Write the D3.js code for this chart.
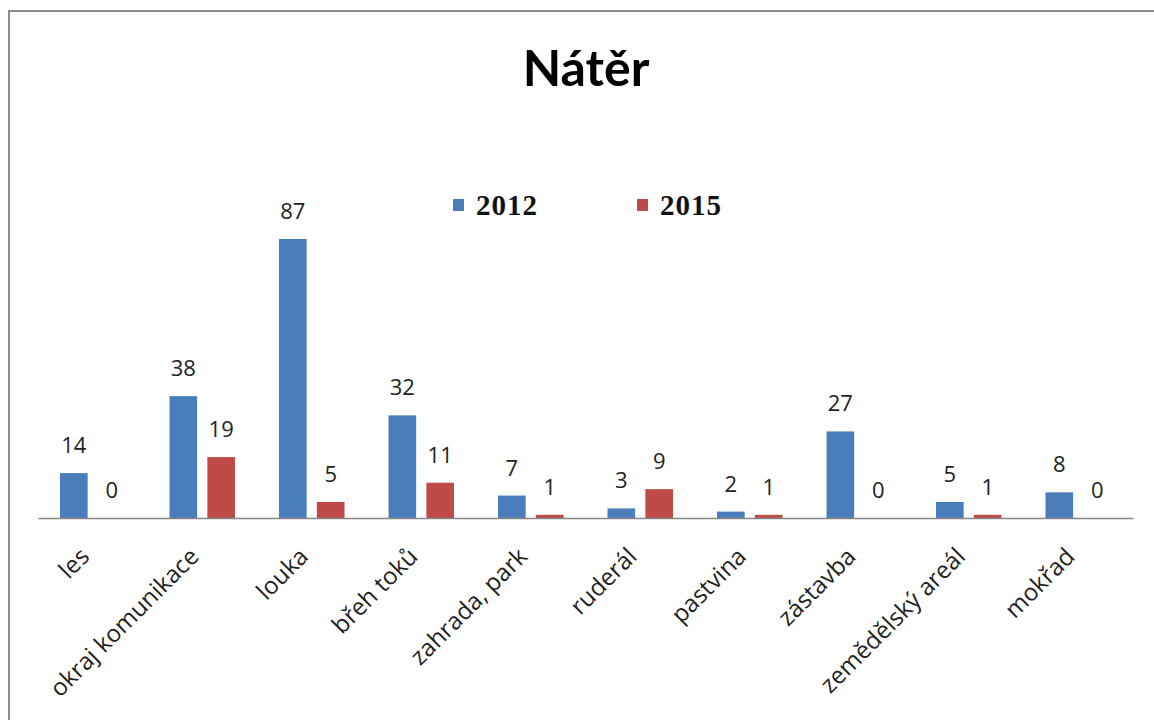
<!DOCTYPE html>
<html>
<head>
<meta charset="utf-8">
<script src="https://cdn.jsdelivr.net/npm/d3@7"></script>
<style>
  body { margin: 0; background: #fff; }
  svg { display: block; }
</style>
</head>
<body>
<script>
'use strict';

// chart data
const categories = ["les", "okraj komunikace", "louka", "břeh toků", "zahrada, park",
  "ruderál", "pastvina", "zástavba", "zemědělský areál", "mokřad"];
const seriesNames = ["2012", "2015"];
const values2012 = [14, 38, 87, 32, 7, 3, 2, 27, 5, 8];
const values2015 = [0, 19, 5, 11, 1, 9, 1, 0, 1, 0];
const colors = ["#4A7EBB", "#BE4B48"];

(function() {
  const width = 1154, height = 720;
  const svg = d3.select('body').append('svg')
    .attr('width', width)
    .attr('height', height);

  // frame (only top and left edges are visible in the original)
  svg.append('path')
    .attr('d', 'M9,' + height + ' V11 H' + width)
    .attr('fill', 'none')
    .attr('stroke', '#8a8a8a')
    .attr('stroke-width', 2);

  // title
  svg.append('text')
    .attr('x', 586)
    .attr('y', 86)
    .attr('text-anchor', 'middle')
    .style('font-family', 'Lato, sans-serif')
    .style('font-weight', 'bold')
    .style('font-size', '50px')
    .attr('fill', '#000')
    .text('Nátěr');

  const plotLeft = 38, plotRight = 1133, baseY = 518;

  const x = d3.scaleBand()
    .domain(categories)
    .range([plotLeft, plotRight])
    .paddingInner(0)
    .paddingOuter(0);

  const inner = d3.scaleBand()
    .domain(seriesNames)
    .range([22, x.bandwidth() - 22])
    .paddingInner(0.27);

  const y = d3.scaleLinear()
    .domain([0, 87])
    .range([baseY, 239]);

  const rows = categories.map((c, i) => ({
    cat: c,
    vals: [
      { key: "2012", v: values2012[i], color: colors[0] },
      { key: "2015", v: values2015[i], color: colors[1] }
    ]
  }));

  const groups = svg.selectAll('.grp')
    .data(rows)
    .enter()
    .append('g')
      .attr('class', 'grp')
      .attr('transform', (d) => 'translate(' + x(d.cat) + ',0)');

  groups.selectAll('rect')
    .data((d) => d.vals)
    .enter()
    .append('rect')
      .attr('x', (d) => inner(d.key))
      .attr('y', (d) => y(d.v))
      .attr('width', inner.bandwidth())
      .attr('height', (d) => baseY - y(d.v))
      .attr('fill', (d) => d.color);

  // value labels
  groups.selectAll('.val')
    .data((d) => d.vals)
    .enter()
    .append('text')
      .attr('class', 'val')
      .attr('x', (d) => inner(d.key) + inner.bandwidth() / 2)
      .attr('y', (d) => y(d.v) - 20)
      .attr('text-anchor', 'middle')
      .style('font-family', '"Open Sans", sans-serif')
      .style('font-size', '22px')
      .attr('fill', '#222')
      .text((d) => d.v);

  // x axis
  const xAxis = d3.axisBottom(x).tickSize(0).tickPadding(0);
  const axisG = svg.append('g')
    .attr('transform', 'translate(0,' + baseY + ')')
    .call(xAxis);
  axisG.select('.domain')
    .attr('stroke', '#868686')
    .attr('stroke-width', 1.5);
  axisG.selectAll('.tick text')
    .attr('text-anchor', 'end')
    .attr('dy', 0)
    .attr('transform', 'translate(-2,40) rotate(-45)')
    .style('font-family', '"Open Sans", sans-serif')
    .style('font-size', '24px')
    .attr('fill', '#222');

  // legend
  const legendX = [453, 637];
  const legend = svg.selectAll('.leg')
    .data(seriesNames)
    .enter()
    .append('g')
      .attr('class', 'leg')
      .attr('transform', (d, i) => 'translate(' + legendX[i] + ',199)');
  legend.append('rect')
    .attr('width', 11)
    .attr('height', 12)
    .attr('fill', (d, i) => colors[i]);
  legend.append('text')
    .attr('x', 23)
    .attr('y', 16)
    .style('font-family', '"Liberation Serif", serif')
    .style('font-weight', 'bold')
    .style('font-size', '29px')
    .style('letter-spacing', '1px')
    .attr('fill', '#111')
    .text((d) => d);
})();
</script>
</body>
</html>
